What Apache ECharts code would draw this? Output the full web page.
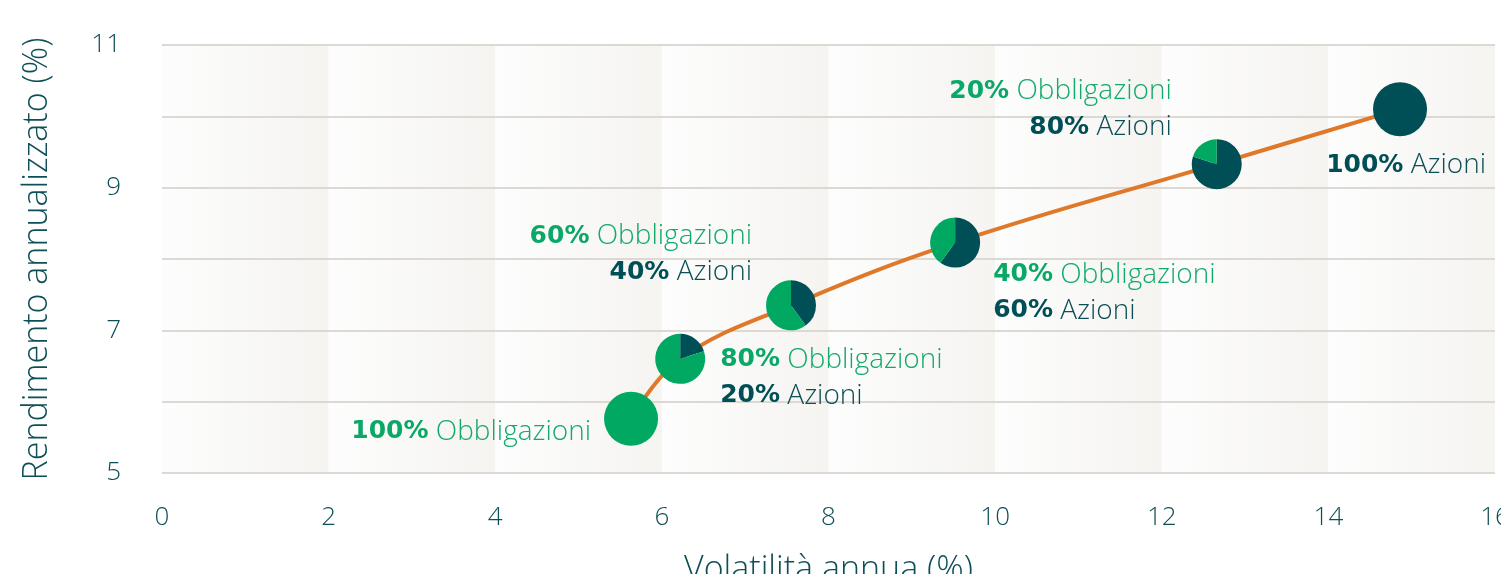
<!DOCTYPE html>
<html>
<head>
	<meta charset="UTF-8">
	<title>Rendimento / Volatilità</title>
	<script src="https://cdn.jsdelivr.net/npm/echarts@6/dist/echarts.min.js"></script>
	<style>
		html, body { margin: 0; padding: 0; background: #fff; }
	</style>
</head>
<body>
<div id="main" style="width: 1501px;height:574px;"></div>
<script type="text/javascript">
	// dati
	var volatilita = [5.63, 6.22, 7.55, 9.52, 12.66, 14.86];
	var rendimento = [5.76, 6.60, 7.35, 8.23, 9.33, 10.10];
	var quotaObbligazioni = [100, 80, 60, 40, 20, 0];
	var quotaAzioni = [0, 20, 40, 60, 80, 100];
	var yTickLabels = [5, 7, 9, 11];

	var VERDE = '#00a862';
	var PETROLIO = '#004f56';
	var TESTO = '#0d4f56';
	var FONT = 'Open Sans';

	// posizione delle etichette rispetto al centro di ogni torta
	var posEtichette = [
		{dx: -40, dy: -5, align: 'right'},
		{dx: 40, dy: -17, align: 'left'},
		{dx: -39, dy: -87, align: 'right'},
		{dx: 38, dy: 14, align: 'left'},
		{dx: -45, dy: -91, align: 'right'},
		{dx: 86, dy: 38, align: 'right'}
	];

	var punti = volatilita.map(function (v, i) {
		return [v, rendimento[i], quotaAzioni[i], quotaObbligazioni[i]];
	});

	function testoEtichetta(obb, az) {
		var righe = [];
		if (obb > 0) righe.push('{gb|' + obb + '%}{gt| Obbligazioni}');
		if (az > 0) righe.push('{db|' + az + '%}{dt| Azioni}');
		return righe.join('\n');
	}

	var rich = {
		gb: {fontFamily: 'DejaVu Sans', fontWeight: 'bold', fontSize: 25, fill: '#0aa866', lineHeight: 36},
		gt: {fontFamily: FONT, fontWeight: 300, fontSize: 28, fill: '#12aa6a', lineHeight: 36},
		db: {fontFamily: 'DejaVu Sans', fontWeight: 'bold', fontSize: 25, fill: PETROLIO, lineHeight: 36},
		dt: {fontFamily: FONT, fontWeight: 300, fontSize: 28, fill: TESTO, lineHeight: 36}
	};

	function renderTorta(params, api) {
		var c = api.coord([api.value(0), api.value(1)]);
		var az = api.value(2);
		var obb = api.value(3);
		var r = (az === 0 || obb === 0) ? 27 : 25;
		var inizio = -Math.PI / 2;
		var meta = inizio + Math.PI * 2 * az / 100;
		var figli = [];
		if (az > 0) {
			figli.push({
				type: 'sector',
				shape: {cx: c[0], cy: c[1], r0: 0, r: r, startAngle: inizio, endAngle: meta, clockwise: true},
				style: {fill: PETROLIO}
			});
		}
		if (obb > 0) {
			figli.push({
				type: 'sector',
				shape: {cx: c[0], cy: c[1], r0: 0, r: r, startAngle: meta, endAngle: inizio + Math.PI * 2, clockwise: true},
				style: {fill: VERDE}
			});
		}
		var p = posEtichette[params.dataIndex];
		figli.push({
			type: 'text',
			style: {
				x: c[0] + p.dx,
				y: c[1] + p.dy,
				text: testoEtichetta(obb, az),
				align: p.align,
				verticalAlign: 'top',
				rich: rich
			}
		});
		return {type: 'group', children: figli};
	}

	var myChart = echarts.init(document.getElementById('main'));

	var option = {
		animation: false,
		grid: {
			left: 162,
			right: 6,
			top: 45,
			bottom: 101,
			outerBoundsMode: 'none',
			containLabel: false
		},
		xAxis: {
			type: 'value',
			min: 0,
			max: 16,
			interval: 2,
			z: 0,
			name: 'Volatilità annua (%)',
			nameLocation: 'middle',
			nameGap: 80,
			nameTextStyle: {fontFamily: FONT, fontWeight: 300, fontSize: 34, color: TESTO},
			axisLine: {show: false},
			axisTick: {show: false},
			splitLine: {show: false},
			axisLabel: {
				margin: 32,
				fontFamily: FONT,
				fontWeight: 300,
				fontSize: 26,
				color: TESTO
			},
			splitArea: {
				show: true,
				areaStyle: {
					color: [new echarts.graphic.LinearGradient(0, 0, 1, 0, [
						{offset: 0, color: '#fdfdfd'},
						{offset: 1, color: '#f5f4f1'}
					])]
				}
			}
		},
		yAxis: {
			type: 'value',
			min: 5,
			max: 11,
			interval: 1,
			z: 1,
			name: 'Rendimento annualizzato (%)',
			nameLocation: 'middle',
			nameGap: 108,
			nameTextStyle: {fontFamily: FONT, fontWeight: 300, fontSize: 34, color: TESTO},
			axisLine: {show: false},
			axisTick: {show: false},
			splitLine: {lineStyle: {color: '#dcd9d4', width: 2}},
			axisLabel: {
				margin: 41,
				fontFamily: FONT,
				fontWeight: 300,
				fontSize: 26,
				color: TESTO,
				formatter: function (v) {
					return yTickLabels.indexOf(v) >= 0 ? String(v) : '';
				}
			}
		},
		series: [
			{
				type: 'line',
				data: volatilita.map(function (v, i) { return [v, rendimento[i]]; }),
				smooth: 0.4,
				showSymbol: false,
				lineStyle: {color: '#e0782a', width: 4},
				z: 2
			},
			{
				type: 'custom',
				renderItem: renderTorta,
				data: punti,
				encode: {x: 0, y: 1},
				z: 3
			}
		]
	};

	myChart.setOption(option);
</script>
</body>
</html>
